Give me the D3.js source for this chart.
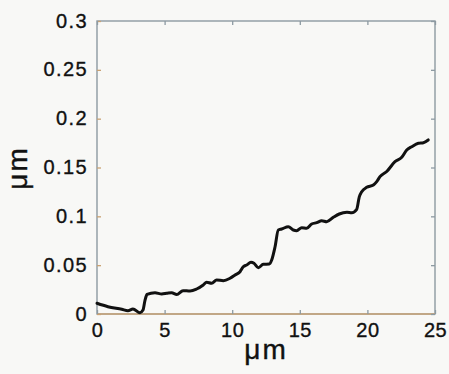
<!DOCTYPE html>
<html>
<head>
<meta charset="utf-8">
<script src="https://cdn.jsdelivr.net/npm/d3@7"></script>
<style>
html,body{margin:0;padding:0;background:#f8f8f6;}
svg{display:block;}
text{font-family:"Liberation Sans",Arial,Helvetica,sans-serif;fill:#111;}
</style>
</head>
<body>
<svg id="chart" width="449" height="374"></svg>
<script>
const xTicks = [0, 5, 10, 15, 20, 25];
const yTicks = [0, 0.05, 0.1, 0.15, 0.2, 0.25, 0.3];
const yTickLabels = ["0", "0.05", "0.1", "0.15", "0.2", "0.25", "0.3"];
const xLabel = "μm";
const yLabel = "μm";
const profileX = [0, 0.81, 1.83, 2.29, 2.66, 3.18, 3.4, 3.55, 3.7, 4.29, 4.79, 5.16, 5.52, 5.9, 6.36,
  6.88, 7.37, 7.86, 8.11, 8.48, 8.85, 9.34, 9.84, 10.21, 10.58, 10.82, 11.07, 11.39, 11.61, 11.93, 12.3, 12.74,
  12.92, 13.17, 13.41, 13.66, 14.15, 14.52, 14.77, 15.14, 15.51, 15.88, 16.25, 16.62, 16.99, 17.48, 17.92,
  18.49, 18.84, 19.21, 19.4, 19.58, 19.95, 20.44, 20.69, 20.93, 21.43, 22.04, 22.54, 22.91, 23.28, 23.77, 24.14, 24.5];
const profileY = [0.011, 0.0075, 0.0048, 0.0034, 0.0051, 0.0013, 0.004, 0.014, 0.020, 0.0218, 0.0205, 0.0212, 0.0218, 0.020, 0.0239,
  0.0235, 0.0256, 0.0297, 0.0325, 0.0314, 0.0348, 0.0341, 0.0366, 0.0399, 0.0433, 0.0484, 0.0502, 0.0529, 0.0519, 0.0474, 0.0509, 0.0512,
  0.0553, 0.0689, 0.086, 0.087, 0.0894, 0.086, 0.0853, 0.0884, 0.0877, 0.0921, 0.0935, 0.0955, 0.0945, 0.099, 0.1024,
  0.1041, 0.1037, 0.1072, 0.120, 0.1252, 0.1297, 0.1321, 0.1355, 0.1406, 0.1459, 0.1559, 0.1604, 0.1679, 0.1713, 0.1748, 0.1754, 0.1782];

const svg = d3.select("#chart");
const L = 97, R = 435, T = 21, B = 314;
const x = d3.scaleLinear().domain([0, 25]).range([L, R]);
const y = d3.scaleLinear().domain([0, 0.3]).range([B, T]);
const frameCol = "#8d9aa2";
const tanCol = "#c9a274";

// frame
svg.append("rect").attr("x", L).attr("y", T).attr("width", R - L).attr("height", B - T)
  .attr("fill", "none").attr("stroke", frameCol).attr("stroke-width", 1.4);
svg.append("line").attr("x1", L).attr("x2", R).attr("y1", B).attr("y2", B)
  .attr("stroke", tanCol).attr("stroke-width", 1.4);

// axes
const fmtY = d => yTickLabels[yTicks.indexOf(d)];
const gLeft = svg.append("g").attr("transform", `translate(${L},0)`)
  .call(d3.axisLeft(y).tickValues(yTicks).tickFormat(fmtY).tickSize(-4).tickPadding(9));
gLeft.select(".domain").remove();
gLeft.selectAll(".tick line").attr("stroke", tanCol).attr("stroke-width", 1.3);
gLeft.selectAll(".tick text").style("font-size", "20px").style("letter-spacing", "1.4px")
  .attr("dy", "0.3em").attr("fill", "#111").attr("stroke", "#111").attr("stroke-width", 0.35);

const gRight = svg.append("g").attr("transform", `translate(${R},0)`)
  .call(d3.axisRight(y).tickValues(yTicks).tickFormat("").tickSize(-4));
gRight.select(".domain").remove();
gRight.selectAll(".tick line").attr("stroke", frameCol).attr("stroke-width", 1.3);

const gBottom = svg.append("g").attr("transform", `translate(0,${B})`)
  .call(d3.axisBottom(x).tickValues(xTicks).tickFormat(d3.format("d")).tickSize(-4).tickPadding(9));
gBottom.select(".domain").remove();
gBottom.selectAll(".tick line").attr("stroke", frameCol).attr("stroke-width", 1.3);
gBottom.selectAll(".tick text").style("font-size", "20px").style("letter-spacing", "0.5px")
  .attr("dy", "0.72em").attr("fill", "#111").attr("stroke", "#111").attr("stroke-width", 0.35);

const gTop = svg.append("g").attr("transform", `translate(0,${T})`)
  .call(d3.axisTop(x).tickValues(xTicks).tickFormat("").tickSize(-4));
gTop.select(".domain").remove();
gTop.selectAll(".tick line").attr("stroke", frameCol).attr("stroke-width", 1.3);

// line
const pts = profileX.map((d, i) => [d, profileY[i]]);
svg.append("path").datum(pts)
  .attr("fill", "none").attr("stroke", "#111").attr("stroke-width", 3)
  .attr("stroke-linejoin", "round").attr("stroke-linecap", "round")
  .attr("d", d3.line().x(d => x(d[0])).y(d => y(d[1])).curve(d3.curveMonotoneX));

// axis labels
svg.append("text").attr("x", 266).attr("y", 359).attr("text-anchor", "middle")
  .style("font-size", "28px").style("letter-spacing", "2px")
  .attr("stroke", "#111").attr("stroke-width", 0.4).text(xLabel);
svg.append("text").attr("transform", "translate(27,168) rotate(-90)").attr("text-anchor", "middle")
  .style("font-size", "28px").style("letter-spacing", "2px")
  .attr("stroke", "#111").attr("stroke-width", 0.4).text(yLabel);
</script>
</body>
</html>
